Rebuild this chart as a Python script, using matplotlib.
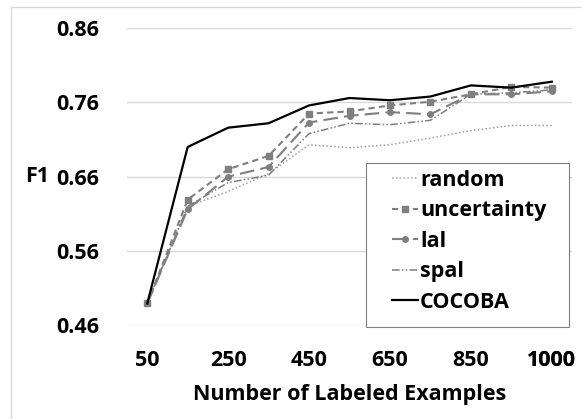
import matplotlib.pyplot as plt
from matplotlib.patches import Rectangle

plt.rcParams['font.family'] = ['Open Sans', 'DejaVu Sans']
plt.rcParams['font.weight'] = 'bold'

# data
labels = ["50", "150", "250", "350", "450", "550", "650", "750", "850", "950", "1000"]
random_f1 = [0.489, 0.620, 0.640, 0.664, 0.703, 0.699, 0.703, 0.712, 0.722, 0.729, 0.729]
uncertainty_f1 = [0.489, 0.629, 0.670, 0.688, 0.745, 0.748, 0.756, 0.761, 0.771, 0.781, 0.780]
lal_f1 = [0.489, 0.616, 0.660, 0.673, 0.733, 0.742, 0.747, 0.744, 0.771, 0.771, 0.775]
spal_f1 = [0.489, 0.620, 0.652, 0.662, 0.718, 0.732, 0.730, 0.736, 0.771, 0.773, 0.777]
cocoba_f1 = [0.489, 0.700, 0.726, 0.732, 0.756, 0.766, 0.763, 0.768, 0.783, 0.780, 0.788]
yticks = [0.46, 0.56, 0.66, 0.76, 0.86]

fs = 15.5
fig = plt.figure(figsize=(5.82, 4.19), dpi=100)
ax = fig.add_axes([127 / 582, 1 - 325 / 419, 445 / 582, (325 - 28.3) / 419])

x = list(range(len(labels)))
gray = "#7f7f7f"
ax.plot(x, random_f1, color="#a0a0a0", lw=1.1, ls=(0, (1, 1.5)), label="random")
ax.plot(x, uncertainty_f1, color=gray, lw=1.5, ls=(0, (3, 2)), marker="s", ms=4.5, label="uncertainty")
ax.plot(x, lal_f1, color=gray, lw=1.5, ls=(0, (7, 3)), marker="o", ms=4, label="lal")
ax.plot(x, spal_f1, color=gray, lw=1.1, ls=(0, (5, 1.5, 1, 1.5, 1, 1.5)), label="spal")
ax.plot(x, cocoba_f1, color="black", lw=1.6, label="COCOBA")

ax.set_xlim(-0.5, len(labels) - 0.5)
ax.set_ylim(0.46, 0.86)
ax.set_yticks(yticks)
ax.set_yticklabels([f"{v:.2f}" for v in yticks])
ax.set_xticks(x[::2] + [x[-1]])
ax.set_xticklabels(labels[::2] + [labels[-1]])
ax.tick_params(length=0, labelsize=fs)
ax.tick_params(axis='x', pad=18)
ax.tick_params(axis='y', pad=20)
for t in ax.get_xticklabels() + ax.get_yticklabels():
    t.set_fontweight('bold')

ax.grid(axis='y', color="#d9d9d9", lw=1)
ax.set_axisbelow(True)
for s in ax.spines.values():
    s.set_visible(False)

ax.set_xlabel("Number of Labeled Examples", fontsize=fs, fontweight='bold', labelpad=9)
fig.text(37 / 582, 1 - 176 / 419, "F1", fontsize=fs, fontweight='bold', ha='center', va='center')

# legend box drawn separately (Excel style, wide padding)
ax.add_patch(Rectangle((0.537, -0.007), 0.456, 0.553, transform=ax.transAxes, fill=True,
                       facecolor="white", edgecolor="#7f7f7f", lw=0.8, zorder=5, clip_on=False))
leg = ax.legend(loc='upper left', bbox_to_anchor=(0.5955, 0.5224), fontsize=fs,
                frameon=False, handlelength=1.2, handletextpad=0.1, borderpad=0.0,
                labelspacing=0.44, borderaxespad=0.0)
leg.set_zorder(6)
for t in leg.get_texts():
    t.set_fontweight('bold')

# chart-area border, only its top and left edges fall inside the image
fig.patches.append(Rectangle((11 / 582, -0.1), 1.0, 1.1 - 7 / 419, transform=fig.transFigure,
                             fill=False, edgecolor="#d9d9d9", lw=1))

fig.savefig("out.png", dpi=100)
